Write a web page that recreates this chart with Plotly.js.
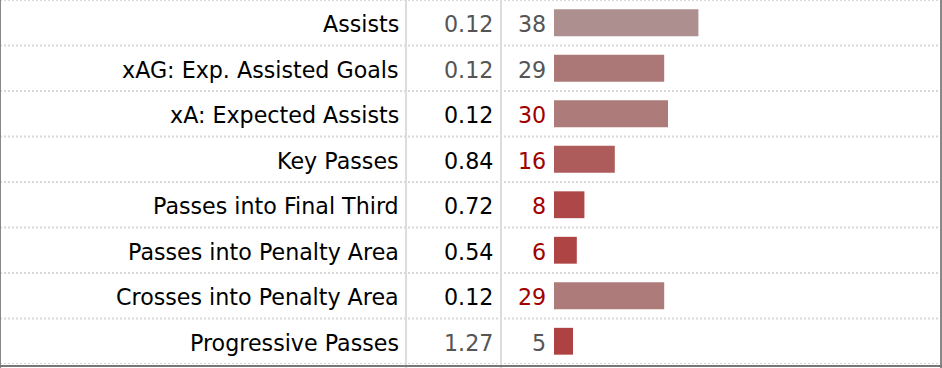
<!DOCTYPE html>
<html>
<head>
<meta charset="utf-8">
<script src="https://cdn.plot.ly/plotly-3.0.1.min.js"></script>
<style>html,body{margin:0;padding:0;background:#fff;}#chart{width:942px;height:368px;}</style>
</head>
<body>
<div id="chart"></div>
<script>
// ---- data ----
var stats = ["Assists", "xAG: Exp. Assisted Goals", "xA: Expected Assists", "Key Passes",
  "Passes into Final Third", "Passes into Penalty Area", "Crosses into Penalty Area", "Progressive Passes"];
var per90 = ["0.12", "0.12", "0.12", "0.84", "0.72", "0.54", "0.12", "1.27"];
var percentile = [38, 29, 30, 16, 8, 6, 29, 5];

// ---- styles ----
var barColors = ["#ae8f8f", "#ab7877", "#ad7b7a", "#ae5b5b", "#ae4848", "#ae4444", "#ad7b7a", "#ae4141"];
var per90Colors = ["#555555", "#555555", "#000000", "#000000", "#000000", "#000000", "#000000", "#555555"];
var pctColors = ["#555555", "#555555", "#a00000", "#a00000", "#a00000", "#a00000", "#a00000", "#555555"];

var W = 942, H = 368;
var FONT = "DejaVu Sans, Verdana, sans-serif";
var FS = 22.2;
function px(x) { return x / W; }

var idx = stats.map(function (_, i) { return i; });

var trace = {
  type: "bar",
  orientation: "h",
  x: percentile,
  y: idx,
  width: 0.59,
  marker: { color: barColors, line: { width: 0 } },
  hoverinfo: "none"
};

var annotations = [];
var shapes = [];
stats.forEach(function (s, i) {
  annotations.push({ xref: "paper", yref: "y", x: px(400.5), y: i, yshift: -1.5, text: s, showarrow: false,
    xanchor: "right", yanchor: "middle", font: { family: FONT, size: FS, color: "#000" } });
  annotations.push({ xref: "paper", yref: "y", x: px(495), y: i, yshift: -1.5, text: per90[i], showarrow: false,
    xanchor: "right", yanchor: "middle", font: { family: FONT, size: FS, color: per90Colors[i] } });
  annotations.push({ xref: "paper", yref: "y", x: px(548), y: i, yshift: -1.5, text: String(percentile[i]), showarrow: false,
    xanchor: "right", yanchor: "middle", font: { family: FONT, size: FS, color: pctColors[i] } });
});
// dotted row separators
for (var k = 0; k <= stats.length; k++) {
  shapes.push({ type: "line", xref: "paper", yref: "y", x0: 0, x1: px(940), y0: k - 0.5, y1: k - 0.5,
    line: { color: "#d8d8d8", width: 2, dash: "2px,2px" }, layer: "below" });
}
// column separators
[406, 501].forEach(function (xv) {
  shapes.push({ type: "line", xref: "paper", yref: "paper", x0: px(xv), x1: px(xv), y0: 0, y1: 1,
    line: { color: "#dcdcdc", width: 2 }, layer: "below" });
});
// outer borders
shapes.push({ type: "line", xref: "paper", yref: "paper", x0: px(0.5), x1: px(0.5), y0: 0, y1: 1,
  line: { color: "#888888", width: 1 } });
shapes.push({ type: "line", xref: "paper", yref: "paper", x0: px(941), x1: px(941), y0: 0, y1: 1,
  line: { color: "#888888", width: 2 } });
shapes.push({ type: "line", xref: "paper", yref: "paper", x0: 0, x1: 1, y0: (H - 366) / H, y1: (H - 366) / H,
  line: { color: "#777777", width: 2 } });

var layout = {
  width: W, height: H,
  margin: { l: 0, r: 0, t: 0, b: 0, pad: 0 },
  paper_bgcolor: "#ffffff", plot_bgcolor: "rgba(0,0,0,0)",
  showlegend: false,
  xaxis: { domain: [px(554), px(934)], range: [0, 100], visible: false, fixedrange: true },
  yaxis: { domain: [(H - 364) / H, 1], range: [stats.length - 0.5, -0.5], visible: false, fixedrange: true },
  annotations: annotations,
  shapes: shapes,
  hovermode: false
};

Plotly.newPlot("chart", [trace], layout, { displayModeBar: false, staticPlot: true });
</script>
</body>
</html>
